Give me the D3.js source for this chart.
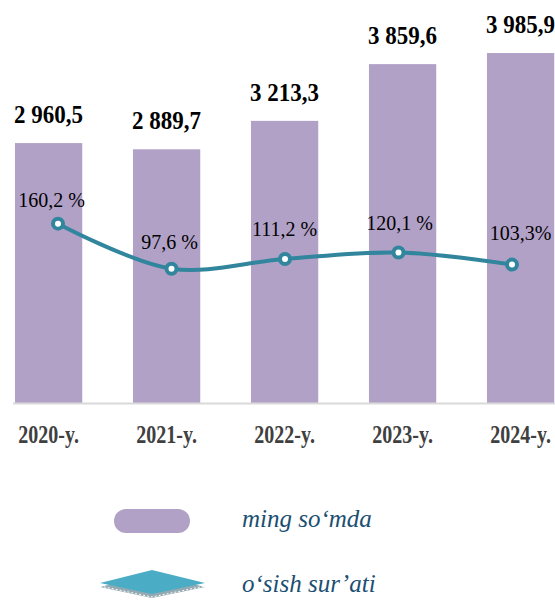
<!DOCTYPE html>
<meta charset="utf-8">
<script src="https://d3js.org/d3.v7.min.js"></script>
<style>
  body { margin: 0; background: #fff; }
  svg { display: block; }
</style>
<div id="chart"></div>
<script>
  // data
  var years = ["2020-y.", "2021-y.", "2022-y.", "2023-y.", "2024-y."];
  var amounts = [2960.5, 2889.7, 3213.3, 3859.6, 3985.9];
  var amountLabels = ["2 960,5", "2 889,7", "3 213,3", "3 859,6", "3 985,9"];
  var growth = [160.2, 97.6, 111.2, 120.1, 103.3];
  var growthLabels = ["160,2 %", "97,6 %", "111,2 %", "120,1 %", "103,3%"];
  var legendNames = ["ming so\u2018mda", "o\u2018sish sur\u2019ati"];

  var width = 555, height = 600;
  var barColor = "#b2a1c7", lineColor = "#31859c";
  var serif = "'Liberation Serif'";

  var svg = d3.select("#chart").append("svg")
    .attr("width", width)
    .attr("height", height);

  // scales
  var x = d3.scaleBand()
    .domain(years)
    .range([-10.4, 579.6])
    .paddingInner(0.43)
    .paddingOuter(0.215);

  var y = d3.scaleLinear()
    .domain([0, 4590])
    .range([403, 0]);

  // line sits on its own axis
  var xl = d3.scalePoint()
    .domain(years)
    .range([58, 512]);

  var y2 = d3.scaleLinear()
    .domain([0, 200])
    .range([339, 195]);

  // bars
  svg.append("g")
    .selectAll("rect")
    .data(amounts)
    .enter()
    .append("rect")
      .attr("x", function(d, i){ return x(years[i]); })
      .attr("y", function(d){ return y(d); })
      .attr("width", x.bandwidth())
      .attr("height", function(d){ return y(0) - y(d); })
      .style("fill", barColor);

  // bar value labels
  svg.append("g")
    .selectAll("text")
    .data(amounts)
    .enter()
    .append("text")
      .attr("transform", function(d, i){
        return "translate(" + (x(years[i]) + x.bandwidth() / 2) + "," + (y(d) - 20) + ") scale(0.92,1)";
      })
      .attr("text-anchor", "middle")
      .style("font-family", serif)
      .style("font-weight", "bold")
      .style("font-size", "25px")
      .style("fill", "#000")
      .text(function(d, i){ return amountLabels[i]; });

  // x axis
  var xAxis = svg.append("g")
    .attr("transform", "translate(0," + y(0) + ")")
    .call(d3.axisBottom(x).tickSize(0).tickPadding(40));
  xAxis.select(".domain")
    .attr("d", "M13,0.5H555")
    .style("stroke", "#d9d9d9")
    .style("stroke-width", 2);
  xAxis.selectAll("text")
    .attr("dy", 0)
    .attr("transform", "scale(0.77,1)")
    .style("font-family", serif)
    .style("font-weight", "bold")
    .style("font-size", "26px")
    .style("fill", "#404040");

  // growth line
  var line = d3.line()
    .x(function(d, i){ return xl(years[i]); })
    .y(function(d){ return y2(d); })
    .curve(d3.curveCatmullRom);

  svg.append("path")
    .datum(growth)
    .attr("d", line)
    .style("fill", "none")
    .style("stroke", lineColor)
    .style("stroke-width", 4);

  svg.append("g")
    .selectAll("circle")
    .data(growth)
    .enter()
    .append("circle")
      .attr("cx", function(d, i){ return xl(years[i]); })
      .attr("cy", function(d){ return y2(d); })
      .attr("r", 5)
      .style("fill", "#fff")
      .style("stroke", lineColor)
      .style("stroke-width", 4);

  // growth labels, centred over the bars
  var labelShift = [3, 3, 0, -3, 0];
  var labelLift = [17, 20, 23, 23, 25];
  svg.append("g")
    .selectAll("text")
    .data(growth)
    .enter()
    .append("text")
      .attr("x", function(d, i){ return x(years[i]) + x.bandwidth() / 2 + labelShift[i]; })
      .attr("y", function(d, i){ return y2(d) - labelLift[i]; })
      .attr("text-anchor", "middle")
      .style("font-family", serif)
      .style("font-size", "20px")
      .style("fill", "#000")
      .text(function(d, i){ return growthLabels[i]; });

  // legend
  var legend = svg.append("g");
  legend.append("rect")
    .attr("x", 114)
    .attr("y", 509)
    .attr("width", 76)
    .attr("height", 24)
    .attr("rx", 12)
    .style("fill", barColor);

  // flat diamond with a grey shadow
  var dia = [[100, 583], [152, 570], [205, 583], [152, 594]];
  legend.append("polygon")
    .attr("points", dia.map(function(p){ return p[0] + "," + (p[1] + 4); }).join(" "))
    .style("fill", "#93aab2");
  legend.append("polyline")
    .attr("points", [dia[0], dia[3], dia[2]].map(function(p){ return p[0] + "," + (p[1] + 3); }).join(" "))
    .style("fill", "none")
    .style("stroke", "#fff")
    .style("stroke-width", 1)
    .style("stroke-dasharray", "2,2");
  legend.append("polygon")
    .attr("points", dia.map(function(p){ return p.join(","); }).join(" "))
    .style("fill", "#4bacc6");

  legend.selectAll("text")
    .data(legendNames)
    .enter()
    .append("text")
      .attr("x", 242)
      .attr("y", function(d, i){ return 527 + i * 65; })
      .style("font-family", serif)
      .style("font-style", "italic")
      .style("font-size", "25px")
      .style("fill", "#1b4f72")
      .text(function(d){ return d; });
</script>
